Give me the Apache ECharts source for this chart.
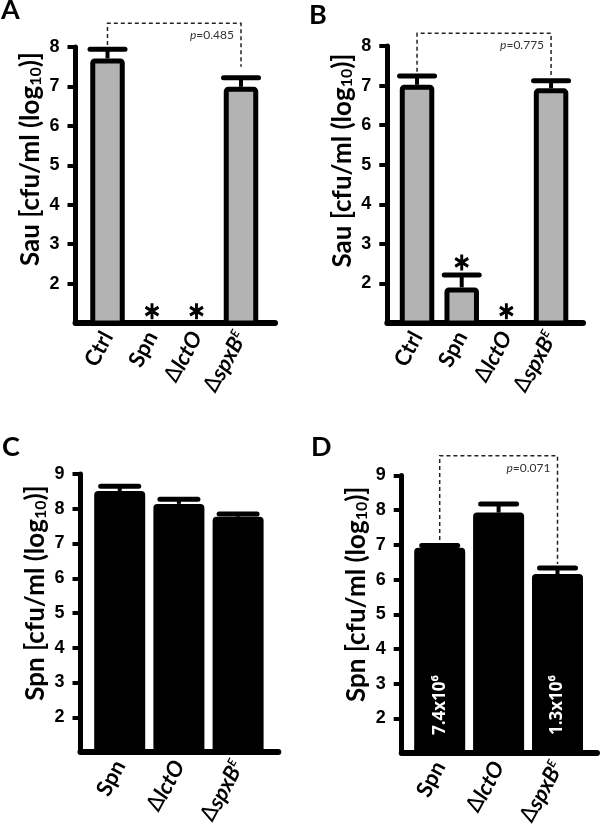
<!DOCTYPE html>
<html><head><meta charset="utf-8">
<script src="https://cdn.jsdelivr.net/npm/echarts@6/dist/echarts.min.js"></script>
<style>html,body{margin:0;padding:0;background:#fff}#c{width:600px;height:834px}</style>
</head><body><div id="c"></div>
<script>
// ---------- data ----------
const catsAB = ['Ctrl', 'Spn', 'ΔlctO', 'ΔspxB^E'];
const catsCD = ['Spn', 'ΔlctO', 'ΔspxB^E'];
const ticksAB = [2, 3, 4, 5, 6, 7, 8];
const ticksCD = [2, 3, 4, 5, 6, 7, 8, 9];

const sauA = [7.71, null, null, 6.99];
const sauAErr = [0.23, null, null, 0.23];
const starsA = [null, 1.3, 1.3, null];

const sauB = [7.02, 1.90, null, 6.93];
const sauBErr = [0.22, 0.31, null, 0.19];
const starsB = [null, 2.53, 1.3, null];

const spnC = [8.51, 8.14, 7.77];
const spnCErr = [0.14, 0.13, 0.08];

const spnD = [6.92, 7.93, 6.16];
const spnDErr = [0.06, 0.25, 0.17];
const barTextD = ['7.4x10^6', '', '1.3x10^6'];

// comparison brackets: [fromCat, toCat, leftEnd, rightEnd, top]
const compA = [0, 3, 8.05, 7.50, 8.60];
const compB = [0, 3, 7.35, 7.22, 8.32];
const compD = [0, 2, 7.14, 6.45, 9.57];
const pA = 'p=0.485';
const pB = 'p=0.775';
const pD = 'p=0.071';

const yTitleSau = 'Sau [cfu/ml (log_10)]';
const yTitleSpn = 'Spn [cfu/ml (log_10)]';

// ---------- helpers ----------
const BOLD = 'Lato';
function catRich(name) {
  let s = name, out = '';
  if (s[0] === 'Δ') { out += '{d|∆}'; s = s.slice(1);
    const parts = s.split('^');
    out += '{i|' + parts[0] + '}';
    if (parts[1]) out += '{sup|' + parts[1] + '}';
    return out;
  }
  return s;
}
const SUPS = { '0': '⁰', '1': '¹', '2': '²', '3': '³', '4': '⁴', '5': '⁵', '6': '⁶', '7': '⁷', '8': '⁸', '9': '⁹' };
function supPlain(t) { const p = t.split('^'); return p.length > 1 ? p[0] + p[1].split('').map(c => SUPS[c] || c).join('') : t; }
function subRich(t) { const p = t.split('_'); return p[0] + '{sub|' + p[1].slice(0, 2) + '}' + p[1].slice(2); }
function pRich(t) { return '{i|p}' + t.slice(1); }

function errData(v, e) { const out = []; v.forEach((x, i) => { if (x != null) out.push([i, x, e[i]]); }); return out; }
function starData(s) { const out = []; s.forEach((x, i) => { if (x != null) out.push([i, x]); }); return out; }

function errSeries(gi, v, e, capW) {
  return {
    type: 'custom', xAxisIndex: gi, yAxisIndex: gi, z: 5, clip: false,
    data: errData(v, e),
    renderItem: function (params, api) {
      const x = api.value(0), val = api.value(1), er = api.value(2);
      const b = api.coord([x, val]), t = api.coord([x, val + er]);
      return { type: 'group', children: [
        { type: 'line', shape: { x1: b[0], y1: b[1], x2: t[0], y2: t[1] }, style: { stroke: '#000', lineWidth: 4 } },
        { type: 'line', shape: { x1: t[0] - capW / 2, y1: t[1], x2: t[0] + capW / 2, y2: t[1] }, style: { stroke: '#000', lineWidth: 5, lineCap: 'round' } }
      ] };
    }
  };
}
function bracketSeries(gi, comp, ptxt) {
  return {
    type: 'custom', xAxisIndex: gi, yAxisIndex: gi, z: 6, clip: false,
    data: [comp],
    renderItem: function (params, api) {
      const a = api.coord([api.value(0), api.value(2)]);
      const b = api.coord([api.value(0), api.value(4)]);
      const c = api.coord([api.value(1), api.value(4)]);
      const d = api.coord([api.value(1), api.value(3)]);
      return { type: 'group', children: [
        { type: 'polyline', shape: { points: [a, b, c, d] }, style: { stroke: '#222', lineWidth: 1.5, lineDash: [4, 3], fill: null } },
        { type: 'text', x: d[0] - 7, y: b[1] + 12, style: { text: pRich(ptxt), align: 'right', verticalAlign: 'middle',
            font: '12px Lato', fill: '#333', rich: { i: { fontStyle: 'italic', fontSize: 12, fontFamily: 'Lato', fill: '#333' } } } }
      ] };
    }
  };
}
function barTextSeries(gi, texts, baseValue) {
  const data = [];
  texts.forEach((t, i) => { if (t) data.push([i, baseValue]); });
  return {
    type: 'custom', xAxisIndex: gi, yAxisIndex: gi, z: 7, clip: false, data: data,
    renderItem: function (params, api) {
      const i = api.value(0);
      const p = api.coord([i, api.value(1)]);
      return { type: 'text', x: p[0], y: p[1] - 18, rotation: Math.PI / 2,
        style: { text: supPlain(texts[i]), align: 'left', verticalAlign: 'middle', fill: '#fff',
          font: 'bold 17px "Open Sans"' } };
    }
  };
}
const starPath = 'path://M10,0L10,20M1.34,5L18.66,15M1.34,15L18.66,5';
function starSeries(gi, s) {
  return { type: 'scatter', xAxisIndex: gi, yAxisIndex: gi, z: 6, data: starData(s),
    symbol: starPath, symbolSize: [15, 16], symbolKeepAspect: true,
    itemStyle: { color: '#000', borderColor: '#000', borderWidth: 3, opacity: 1 }, silent: true };
}

const grids = [], xAxes = [], yAxes = [];
function addPanel(g, cats, ymin, ymax, ticks, title, titleShift) {
  const gi = grids.length;
  grids.push({ left: g.axisLeft, top: g.top, width: g.axisRight - g.axisLeft, height: g.height });
  xAxes.push({ gridIndex: gi, type: 'value', min: 0, max: 1,
    axisLine: { show: true, onZero: false, lineStyle: { color: '#000', width: 6, cap: 'round' } },
    axisTick: { show: false }, axisLabel: { show: false }, splitLine: { show: false } });
  yAxes.push({ gridIndex: gi, type: 'value', min: ymin, max: ymax, interval: 1,
    axisLine: { show: true, lineStyle: { color: '#000', width: 5, cap: 'round' } },
    axisTick: { show: true, length: 8, lineStyle: { color: '#000', width: 4 }, customValues: ticks },
    axisLabel: { show: true, customValues: ticks, margin: 16, color: '#000', fontSize: 18, fontWeight: 'bold', fontFamily: 'Liberation Sans' },
    splitLine: { show: false },
    name: subRich(title), nameLocation: 'middle', nameRotate: 90, nameGap: g.nameGap,
    nameTextStyle: { color: '#000', fontSize: 26, fontWeight: 'bold', fontFamily: BOLD, padding: [0, 0, 0, titleShift * 2],
      rich: { sub: { fontSize: 16, fontWeight: 'bold', fontFamily: BOLD, color: '#000', verticalAlign: 'bottom' } } } });
  const bi = grids.length;
  grids.push({ left: g.barLeft, top: g.top, width: g.barWidth, height: g.height });
  xAxes.push({ gridIndex: bi, type: 'category', data: cats,
    axisLine: { show: false }, axisTick: { show: false },
    axisLabel: { show: true, rotate: 62, margin: 10, interval: 0, color: '#000', fontSize: 22, fontWeight: 'bold', fontFamily: BOLD,
      formatter: catRich,
      rich: { d: { fontSize: 22, fontWeight: 'normal', fontFamily: 'DejaVu Sans', color: '#000' },
              i: { fontSize: 22, fontWeight: 'bold', fontStyle: 'italic', fontFamily: BOLD, color: '#000' },
              sup: { fontSize: 12, fontWeight: 'bold', fontStyle: 'italic', fontFamily: BOLD, color: '#000', verticalAlign: 'top' } } } });
  yAxes.push({ gridIndex: bi, type: 'value', min: ymin, max: ymax, show: false });
  return bi;
}

const iA = addPanel({ axisLeft: 75.5, axisRight: 275, top: 47, height: 276, barLeft: 85.25, barWidth: 178, nameGap: 32 }, catsAB, 1, 8, ticksAB, yTitleSau, 26);
const iB = addPanel({ axisLeft: 387.3, axisRight: 583, top: 46, height: 277, barLeft: 394.7, barWidth: 178.7, nameGap: 32 }, catsAB, 1, 8, ticksAB, yTitleSau, 24);
const iC = addPanel({ axisLeft: 80.5, axisRight: 278.3, top: 474, height: 278, barLeft: 90.1, barWidth: 177.6, nameGap: 32 }, catsCD, 1, 9, ticksCD, yTitleSpn, 20);
const iD = addPanel({ axisLeft: 401.7, axisRight: 597, top: 475.5, height: 277.5, barLeft: 410.25, barWidth: 176.7, nameGap: 32 }, catsCD, 1, 9, ticksCD, yTitleSpn, 20);

const grayBar = { color: '#b3b3b3', borderColor: '#000', borderWidth: 5, borderRadius: 2 };
const blackBar = { color: '#000', borderRadius: [4, 4, 0, 0] };

const series = [
  { type: 'bar', xAxisIndex: iA, yAxisIndex: iA, data: sauA, barWidth: 34.5, itemStyle: grayBar, z: 3 },
  errSeries(iA, sauA, sauAErr, 35), starSeries(iA, starsA), bracketSeries(iA, compA, pA),
  { type: 'bar', xAxisIndex: iB, yAxisIndex: iB, data: sauB, barWidth: 34.5, itemStyle: grayBar, z: 3 },
  errSeries(iB, sauB, sauBErr, 35), starSeries(iB, starsB), bracketSeries(iB, compB, pB),
  { type: 'bar', xAxisIndex: iC, yAxisIndex: iC, data: spnC, barWidth: 51, itemStyle: blackBar, z: 3 },
  errSeries(iC, spnC, spnCErr, 38),
  { type: 'bar', xAxisIndex: iD, yAxisIndex: iD, data: spnD, barWidth: 51, itemStyle: blackBar, z: 3 },
  errSeries(iD, spnD, spnDErr, 36), bracketSeries(iD, compD, pD), barTextSeries(iD, barTextD, 1)
];

const panelTitle = (t, x, y) => ({ text: t, left: x, top: y, padding: 0, textStyle: { fontSize: 27, fontWeight: 'bold', fontFamily: BOLD, color: '#000' } });

const chart = echarts.init(document.getElementById('c'), null, { renderer: 'canvas' });
chart.setOption({
  animation: false,
  backgroundColor: '#fff',
  title: [panelTitle('A', 1, -3), panelTitle('B', 309, 2), panelTitle('C', 2, 434), panelTitle('D', 311, 434)],
  grid: grids, xAxis: xAxes, yAxis: yAxes, series: series
});
</script></body></html>
